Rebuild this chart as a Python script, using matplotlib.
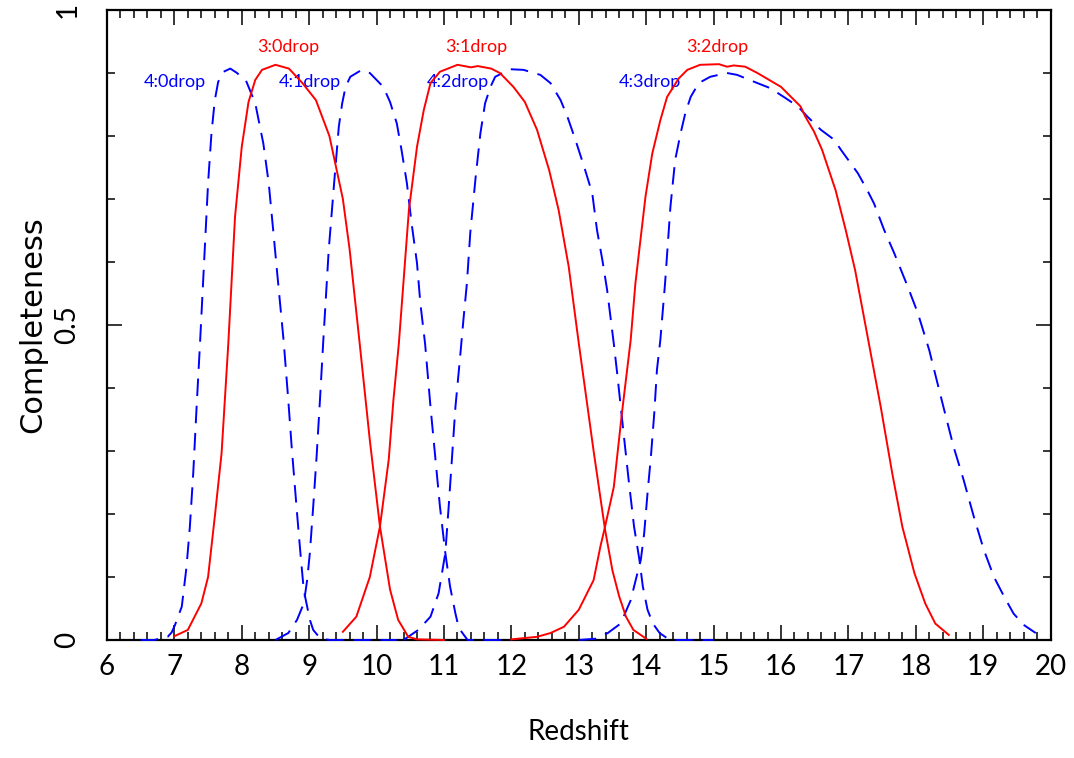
import matplotlib
matplotlib.use("Agg")
import matplotlib.pyplot as plt
from matplotlib.ticker import MultipleLocator

plt.rcParams.update({
    "font.family": ["Lato", "DejaVu Sans"],
    "axes.linewidth": 1.6,
})

RED = "#ff0000"
BLUE = "#0000ff"

# ── completeness curves ───────────────────────────────────────────────────────
z30 = [7.0, 7.2, 7.4, 7.5, 7.6, 7.7, 7.8, 7.9, 8.0, 8.1, 8.2, 8.3, 8.5, 8.7, 8.9,
       9.1, 9.3, 9.5, 9.6, 9.75, 9.9, 10.05, 10.2, 10.32, 10.47, 10.6, 11.0]
c30 = [0.006, 0.016, 0.058, 0.10, 0.196, 0.296, 0.47, 0.672, 0.783, 0.854, 0.889,
       0.905, 0.913, 0.907, 0.884, 0.857, 0.80, 0.70, 0.62, 0.47, 0.317, 0.18,
       0.08, 0.032, 0.005, 0.001, 0.0]

z31 = [9.5, 9.7, 9.9, 10.05, 10.18, 10.25, 10.33, 10.48, 10.6, 10.7, 10.8, 10.94,
       11.2, 11.4, 11.5, 11.7, 11.83, 12.03, 12.2, 12.38, 12.56, 12.7, 12.85, 13.0,
       13.22, 13.39, 13.5, 13.6, 13.7, 13.81, 14.0]
c31 = [0.013, 0.037, 0.10, 0.18, 0.286, 0.381, 0.47, 0.683, 0.783, 0.841, 0.884,
       0.902, 0.913, 0.909, 0.911, 0.907, 0.90, 0.878, 0.854, 0.81, 0.746, 0.683,
       0.593, 0.471, 0.30, 0.175, 0.11, 0.069, 0.037, 0.016, 0.002]

z32 = [12.0, 12.38, 12.58, 12.78, 13.0, 13.22, 13.32, 13.39, 13.52, 13.64, 13.77,
       13.84, 13.99, 14.09, 14.21, 14.31, 14.48, 14.61, 14.8, 15.08, 15.2, 15.3,
       15.47, 15.65, 16.0, 16.29, 16.36, 16.49, 16.61, 16.81, 16.96, 17.1, 17.23,
       17.3, 17.48, 17.65, 17.8, 17.98, 18.14, 18.29, 18.49]
c32 = [0.001, 0.005, 0.011, 0.021, 0.048, 0.095, 0.148, 0.18, 0.243, 0.36, 0.476,
       0.566, 0.704, 0.772, 0.825, 0.862, 0.891, 0.905, 0.913, 0.914, 0.910, 0.912,
       0.910, 0.90, 0.878, 0.847, 0.831, 0.807, 0.778, 0.714, 0.651, 0.587, 0.513,
       0.473, 0.37, 0.265, 0.18, 0.106, 0.058, 0.026, 0.008]

z40 = [6.5, 6.7, 6.9, 6.96, 7.01, 7.11, 7.18, 7.23, 7.28, 7.33, 7.38, 7.45, 7.5,
       7.55, 7.6, 7.65, 7.73, 7.83, 7.93, 8.07, 8.2, 8.32, 8.4, 8.47, 8.54, 8.62,
       8.69, 8.74, 8.82, 8.87, 8.92, 8.97, 9.01, 9.06, 9.16, 9.3, 10.3]
c40 = [0.0, 0.0, 0.005, 0.012, 0.024, 0.053, 0.116, 0.18, 0.265, 0.37, 0.47, 0.619,
       0.725, 0.804, 0.857, 0.886, 0.902, 0.907, 0.90, 0.886, 0.852, 0.788, 0.725,
       0.646, 0.566, 0.476, 0.381, 0.307, 0.201, 0.138, 0.079, 0.053, 0.032, 0.016,
       0.003, 0.0, 0.0]

z41 = [8.5, 8.69, 8.82, 8.92, 8.97, 9.01, 9.06, 9.11, 9.16, 9.21, 9.29, 9.37, 9.44,
       9.49, 9.54, 9.61, 9.78, 9.9, 10.1, 10.2, 10.3, 10.37, 10.45, 10.52, 10.6,
       10.65, 10.72, 10.8, 10.87, 10.94, 11.02, 11.09, 11.17, 11.22, 11.35, 12.0]
c41 = [0.0, 0.011, 0.032, 0.058, 0.095, 0.138, 0.212, 0.291, 0.381, 0.476, 0.619,
       0.725, 0.815, 0.852, 0.878, 0.894, 0.905, 0.90, 0.878, 0.854, 0.82, 0.778,
       0.725, 0.661, 0.598, 0.534, 0.47, 0.37, 0.291, 0.212, 0.138, 0.085, 0.042,
       0.019, 0.0, 0.0]

z42 = [10.4, 10.62, 10.8, 10.92, 11.02, 11.07, 11.12, 11.17, 11.24, 11.29, 11.34,
       11.39, 11.47, 11.54, 11.61, 11.69, 11.76, 11.98, 12.18, 12.43, 12.58, 12.73,
       12.83, 12.95, 13.08, 13.2, 13.27, 13.35, 13.42, 13.52, 13.57, 13.67, 13.74,
       13.82, 13.9, 13.95, 14.02, 14.1, 14.2, 14.35, 15.0]
c42 = [0.0, 0.016, 0.037, 0.074, 0.138, 0.212, 0.291, 0.37, 0.45, 0.51, 0.566,
       0.646, 0.735, 0.804, 0.852, 0.878, 0.894, 0.906, 0.905, 0.897, 0.884, 0.857,
       0.831, 0.794, 0.751, 0.709, 0.651, 0.603, 0.556, 0.47, 0.423, 0.323, 0.254,
       0.18, 0.127, 0.085, 0.048, 0.026, 0.011, 0.0, 0.0]

z43 = [13.0, 13.25, 13.43, 13.62, 13.77, 13.87, 13.92, 13.97, 14.02, 14.07, 14.12,
       14.16, 14.21, 14.28, 14.36, 14.43, 14.51, 14.58, 14.66, 14.78, 14.95, 15.2,
       15.35, 15.65, 15.84, 16.07, 16.25, 16.39, 16.59, 16.79, 16.89, 17.14, 17.28,
       17.38, 17.53, 17.68, 17.88, 18.03, 18.2, 18.26, 18.41, 18.56, 18.71, 18.86,
       19.01, 19.16, 19.31, 19.45, 19.6, 19.78]
c43 = [0.0, 0.002, 0.011, 0.026, 0.063, 0.106, 0.127, 0.169, 0.233, 0.291, 0.36,
       0.429, 0.476, 0.566, 0.688, 0.762, 0.804, 0.836, 0.862, 0.884, 0.894, 0.90,
       0.897, 0.884, 0.876, 0.86, 0.847, 0.831, 0.81, 0.794, 0.778, 0.741, 0.714,
       0.693, 0.651, 0.614, 0.561, 0.519, 0.46, 0.434, 0.37, 0.307, 0.254, 0.196,
       0.143, 0.10, 0.069, 0.042, 0.024, 0.011]

RED_CURVES = [(z30, c30), (z31, c31), (z32, c32)]
BLUE_CURVES = [(z40, c40), (z41, c41), (z42, c42), (z43, c43)]

# label text and anchor (redshift, completeness)
red_labels = ["3:0drop", "3:1drop", "3:2drop"]
red_label_z = [8.69, 11.48, 15.06]
red_label_c = 0.941
blue_labels = ["4:0drop", "4:1drop", "4:2drop", "4:3drop"]
blue_label_z = [7.01, 9.01, 11.21, 14.06]
blue_label_c = 0.886

# ── figure ─────────────────────────────────────────────────────────────────────
fig = plt.figure(figsize=(10.74, 7.58), dpi=100)
ax = fig.add_axes([0.0996, 0.1557, 0.8786, 0.8311])

for z, c in RED_CURVES:
    ax.plot(z, c, color=RED, lw=1.4, zorder=4, clip_on=False)
for z, c in BLUE_CURVES:
    ax.plot(z, c, color=BLUE, lw=1.4, ls=(0, (9, 5)), zorder=3, clip_on=False)

for txt, z in zip(red_labels, red_label_z):
    ax.text(z, red_label_c, txt, color=RED, fontsize=13,
            ha="center", va="center")
for txt, z in zip(blue_labels, blue_label_z):
    ax.text(z, blue_label_c, txt, color=BLUE, fontsize=13,
            ha="center", va="center")

ax.set_xlim(6, 20)
ax.set_ylim(0, 1)
ax.xaxis.set_major_locator(MultipleLocator(1))
ax.xaxis.set_minor_locator(MultipleLocator(0.2))
ax.yaxis.set_minor_locator(MultipleLocator(0.1))
ax.set_yticks([0, 0.5, 1])
ax.set_yticklabels(["0", "0.5", "1"], rotation=90, va="center")

ax.tick_params(which="both", direction="in", top=True, right=True, width=1.1)
ax.tick_params(which="major", length=11, labelsize=20)
ax.tick_params(which="minor", length=5.8)
ax.tick_params(axis="x", which="major", pad=10)
ax.tick_params(axis="y", which="major", pad=19)

ax.set_xlabel("Redshift", fontsize=20, labelpad=28)
ax.set_ylabel("Completeness", fontsize=22, family="DejaVu Sans", labelpad=5)

fig.savefig("out.png", dpi=100)
